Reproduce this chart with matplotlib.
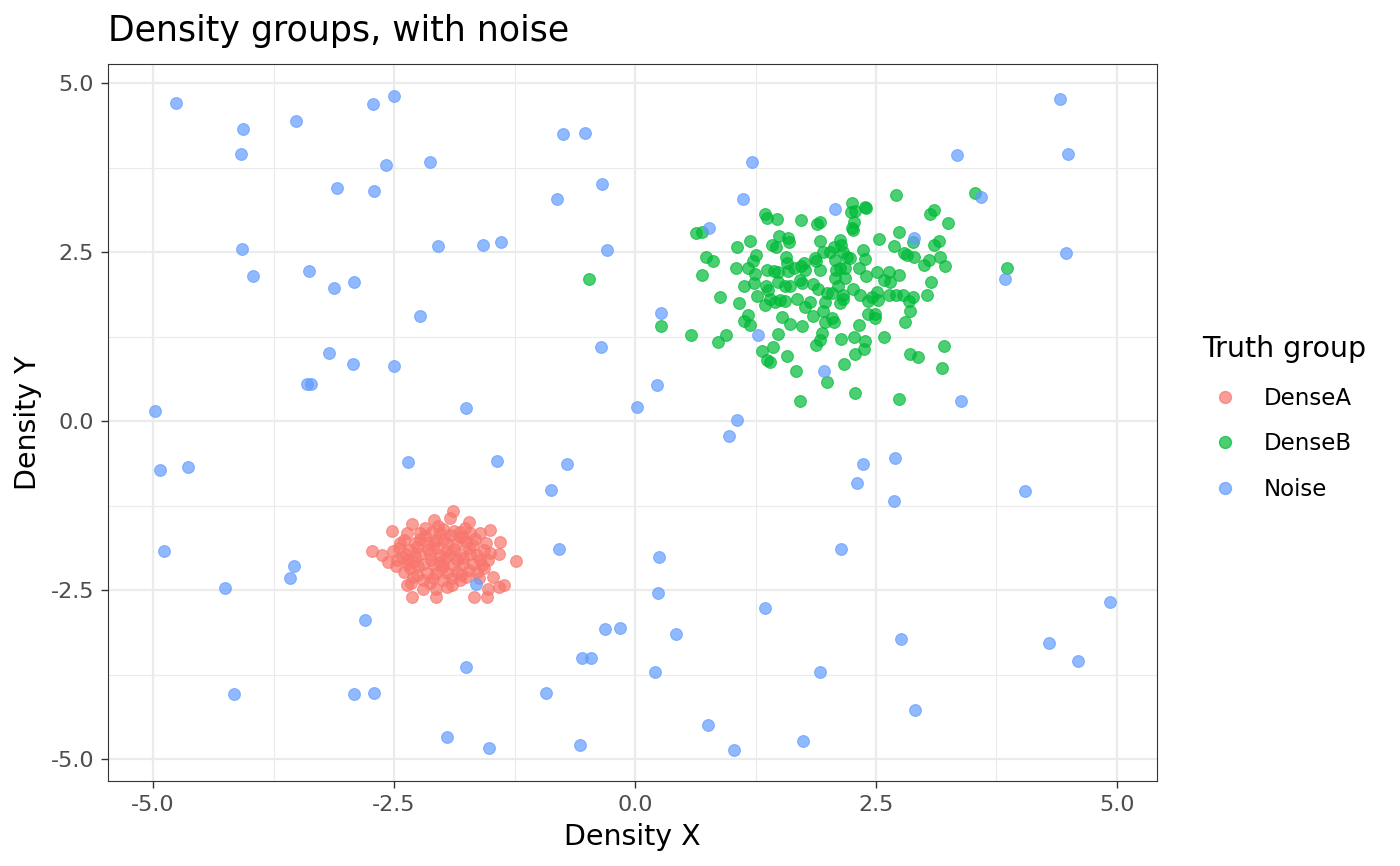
import numpy as np
import matplotlib
matplotlib.use("Agg")
import matplotlib.pyplot as plt
from matplotlib.lines import Line2D

# point positions (x, y)
densea_pts = [
    (-1.89, -1.33), (-1.92, -1.44), (-2.09, -1.47), (-2.31, -1.52), (-2.52, -1.63),
    (-1.72, -1.49), (-1.50, -1.61), (-2.73, -1.92), (-2.62, -1.98), (-2.56, -2.09),
    (-2.51, -1.92), (-1.40, -1.79), (-1.41, -1.97), (-1.23, -2.07), (-1.57, -2.18),
    (-2.37, -2.43), (-2.32, -2.39), (-2.31, -2.60), (-2.06, -2.60), (-2.06, -2.48),
    (-1.90, -2.43), (-1.82, -2.35), (-1.67, -2.60), (-1.54, -2.61), (-1.52, -2.48),
    (-1.41, -2.46), (-1.36, -2.43), (-2.37, -1.66), (-2.23, -1.66), (-2.44, -1.81),
    (-2.40, -1.76), (-1.99, -1.59), (-1.82, -1.64), (-1.61, -1.66), (-1.57, -1.91),
    (-1.61, -2.06), (-2.47, -2.06), (-2.42, -2.01), (-2.33, -2.18), (-2.26, -2.28),
    (-2.20, -2.35), (-2.13, -2.40), (-1.99, -2.35), (-1.75, -2.30), (-1.64, -2.23),
    (-1.59, -2.13), (-2.16, -1.81), (-2.06, -1.76), (-1.95, -1.81), (-1.85, -1.81),
    (-1.75, -1.79), (-1.68, -1.83), (-2.23, -1.96), (-2.13, -1.96), (-2.02, -1.98),
    (-1.92, -1.96), (-1.82, -1.96), (-1.71, -1.96), (-2.30, -2.08), (-2.20, -2.11),
    (-2.09, -2.13), (-1.99, -2.13), (-1.89, -2.13), (-1.78, -2.11), (-1.68, -2.11),
    (-2.16, -2.25), (-2.06, -2.25), (-1.95, -2.25), (-1.85, -2.23), (-2.33, -1.91),
    (-2.26, -1.86), (-1.82, -1.71), (-2.11, -1.64), (-2.23, -1.74), (-1.71, -1.66),
    (-1.92, -1.69), (-2.02, -1.66), (-1.64, -1.98), (-2.40, -2.23), (-1.95, -2.45),
    (-2.20, -2.48), (-2.05, -1.88), (-1.97, -2.03), (-2.12, -2.05), (-1.88, -1.90),
    (-2.00, -2.18), (-1.78, -2.02), (-2.28, -2.00), (-2.35, -2.05),
    (-2.45, -1.88), (-2.38, -1.96), (-2.28, -1.80), (-2.18, -1.70), (-2.08, -1.82),
    (-1.98, -1.74), (-1.88, -1.62), (-1.78, -1.72), (-1.66, -1.75), (-1.55, -1.80),
    (-1.50, -1.95), (-1.52, -2.05), (-1.72, -2.20), (-1.80, -2.28), (-1.90, -2.32),
    (-2.10, -2.32), (-2.25, -2.15), (-2.36, -2.12), (-2.15, -1.90), (-1.95, -1.92),
    (-1.85, -2.05), (-2.02, -2.08), (-1.72, -1.88), (-2.30, -2.30), (-1.62, -2.32),
    (-2.48, -2.15), (-2.04, -1.55), (-1.76, -1.58), (-2.18, -1.58), (-1.47, -2.30),
]

denseb_pts = [
    (1.35, 3.06), (1.37, 3.00), (1.47, 2.99), (1.72, 2.97), (1.89, 2.91), (1.92, 2.94),
    (0.63, 2.78), (0.70, 2.80), (1.49, 2.74), (1.59, 2.70), (1.60, 2.65), (1.19, 2.66),
    (1.06, 2.58), (1.42, 2.60), (1.46, 2.58), (1.92, 2.66), (0.74, 2.42), (0.81, 2.36),
    (1.25, 2.46), (1.22, 2.36), (1.17, 2.27), (1.05, 2.26), (1.24, 2.18), (1.37, 2.24),
    (1.44, 2.22), (1.48, 2.21), (1.57, 2.42), (1.58, 2.33), (1.59, 2.22), (1.65, 2.27),
    (1.72, 2.30), (1.75, 2.33), (1.76, 2.24), (1.87, 2.41), (1.88, 2.36), (1.92, 2.23),
    (1.95, 2.50), (0.70, 2.16), (1.13, 2.00), (1.23, 2.04), (1.36, 2.00), (1.38, 1.94),
    (1.48, 2.05), (1.56, 2.00), (1.61, 1.99), (1.71, 2.09), (1.73, 2.04), (1.85, 2.03),
    (1.90, 1.96), (1.99, 1.90), (0.88, 1.83), (1.08, 1.75), (1.27, 1.85), (1.35, 1.72),
    (1.40, 1.81), (1.45, 1.76), (1.50, 1.79), (1.56, 1.78), (1.68, 1.81), (1.76, 1.69),
    (1.82, 1.76), (1.97, 1.76), (1.17, 1.57), (1.13, 1.48), (1.19, 1.42), (1.52, 1.54),
    (1.61, 1.44), (1.73, 1.40), (1.85, 1.55), (1.95, 1.62), (1.97, 1.47), (0.58, 1.27),
    (0.86, 1.17), (0.94, 1.27), (1.48, 1.29), (1.94, 1.30), (1.92, 1.20), (1.88, 1.13),
    (1.43, 1.10), (1.32, 1.03), (1.37, 0.90), (1.40, 0.87), (1.58, 0.96), (1.67, 0.74),
    (1.99, 0.58), (1.71, 0.30),
    (2.71, 3.34), (3.53, 3.37), (2.25, 3.23), (2.24, 3.09), (2.28, 3.10), (2.39, 3.16),
    (2.40, 3.15), (3.06, 3.06), (3.10, 3.12), (3.25, 2.93), (2.27, 2.94), (2.25, 2.85),
    (2.26, 2.82), (2.74, 2.79), (2.53, 2.69), (2.13, 2.68), (2.14, 2.60), (2.06, 2.58),
    (2.02, 2.50), (2.69, 2.59), (2.79, 2.49), (2.82, 2.46), (2.89, 2.42), (2.88, 2.65),
    (3.10, 2.60), (3.15, 2.66), (3.00, 2.31), (3.05, 2.38), (3.16, 2.42), (3.22, 2.29),
    (2.16, 2.50), (2.20, 2.43), (2.23, 2.41), (2.37, 2.53), (2.39, 2.39), (2.07, 2.38),
    (2.13, 2.26), (2.09, 2.23), (2.18, 2.26), (2.32, 2.27), (2.51, 2.21), (2.40, 2.14),
    (2.58, 2.09), (2.63, 2.21), (2.65, 2.06), (2.74, 2.16), (3.07, 2.05), (2.07, 2.11),
    (2.18, 2.11), (2.11, 1.99), (2.04, 1.89), (2.16, 1.86), (2.26, 1.95), (2.33, 1.86),
    (2.42, 1.77), (2.46, 1.83), (2.51, 1.91), (2.52, 1.79), (2.63, 1.86), (2.71, 1.86),
    (2.78, 1.86), (2.84, 1.77), (2.88, 1.84), (3.03, 1.86), (2.85, 1.63), (2.80, 1.47),
    (2.42, 1.58), (2.49, 1.59), (2.49, 1.52), (2.13, 1.74), (2.16, 1.81), (2.04, 1.52),
    (2.06, 1.47), (2.32, 1.42), (2.14, 1.22), (2.27, 1.25), (2.39, 1.19), (2.38, 1.06),
    (2.28, 0.99), (2.17, 0.85), (2.58, 1.25), (2.85, 0.99), (2.94, 0.94), (3.21, 1.11),
    (3.18, 0.79), (2.28, 0.41), (2.74, 0.32),
    (-0.48, 2.10), (0.27, 1.41), (3.86, 2.26),
]

noise_pts = [
    (-4.76, 4.70), (-4.07, 4.32), (-4.09, 3.95), (-3.52, 4.44), (-2.72, 4.69),
    (-2.50, 4.81), (-2.58, 3.78), (-2.13, 3.83), (-3.09, 3.44), (-2.71, 3.40),
    (-4.08, 2.55), (-2.04, 2.59), (-3.96, 2.14), (-3.38, 2.22), (-3.12, 1.97),
    (-2.91, 2.05), (-2.23, 1.56), (-3.17, 1.01), (-2.93, 0.85), (-2.50, 0.82),
    (-3.40, 0.55), (-3.36, 0.55), (-4.98, 0.15), (-1.75, 0.19), (-0.75, 4.25),
    (-0.52, 4.26), (1.21, 3.83), (-0.34, 3.51), (-0.81, 3.28), (1.12, 3.28),
    (0.77, 2.86), (-1.58, 2.61), (-1.39, 2.65), (-0.29, 2.53), (0.27, 1.60),
    (-0.35, 1.10), (1.28, 1.27), (0.23, 0.53), (0.02, 0.21), (1.06, 0.01),
    (4.41, 4.77), (3.34, 3.93), (4.49, 3.95), (3.59, 3.31), (2.07, 3.14),
    (2.89, 2.70), (4.47, 2.49), (3.84, 2.10), (1.96, 0.74), (3.38, 0.29),
    (-4.93, -0.73), (-4.64, -0.68), (-2.36, -0.61), (-4.89, -1.93), (-4.25, -2.47),
    (-3.54, -2.15), (-3.58, -2.32), (-2.80, -2.94), (-1.75, -3.64), (-4.16, -4.04),
    (-2.91, -4.04), (-2.71, -4.03), (-1.95, -4.67), (0.98, -0.22), (-1.43, -0.59),
    (-0.71, -0.64), (-0.87, -1.02), (-0.79, -1.90), (0.25, -2.01), (-1.65, -2.41),
    (0.24, -2.55), (1.35, -2.76), (-0.31, -3.07), (-0.16, -3.06), (0.43, -3.15),
    (-0.55, -3.50), (-0.46, -3.50), (0.21, -3.72), (-0.92, -4.02), (0.76, -4.50),
    (-1.51, -4.83), (-0.57, -4.79), (1.03, -4.87), (1.74, -4.73), (2.37, -0.64),
    (2.70, -0.54), (2.30, -0.92), (2.69, -1.19), (4.05, -1.04), (2.14, -1.90),
    (4.93, -2.67), (2.76, -3.22), (4.29, -3.28), (4.60, -3.55), (1.92, -3.71),
    (2.90, -4.28),
]

group_names = ["DenseA", "DenseB", "Noise"]
group_colors = ["#F8766D", "#00BA38", "#619CFF"]
tick_vals = [-5.0, -2.5, 0.0, 2.5, 5.0]
tick_labels = ["-5.0", "-2.5", "0.0", "2.5", "5.0"]

W, H = 1400, 866
fig = plt.figure(figsize=(W / 100, H / 100), dpi=100)
ax = fig.add_axes([108 / W, 1 - 781 / H, (1157 - 108) / W, (781 - 64) / H])

for name, pts, col in zip(group_names, [densea_pts, denseb_pts, noise_pts], group_colors):
    arr = np.array(pts)
    ax.scatter(arr[:, 0], arr[:, 1], s=72, color=col, alpha=0.7,
               edgecolors=col, linewidths=0.8, zorder=3)

ax.set_xlim(-5.467, 5.415)
ax.set_ylim(-5.325, 5.281)
ax.set_xticks(tick_vals)
ax.set_xticklabels(tick_labels)
ax.set_yticks(tick_vals)
ax.set_yticklabels(tick_labels)
ax.set_xticks([-3.75, -1.25, 1.25, 3.75], minor=True)
ax.set_yticks([-3.75, -1.25, 1.25, 3.75], minor=True)

ax.grid(which="major", color="#EBEBEB", linewidth=1.6, zorder=0)
ax.grid(which="minor", color="#EBEBEB", linewidth=0.8, zorder=0)
ax.set_axisbelow(True)
ax.tick_params(which="major", length=5, width=1.0, color="#333333",
               labelsize=16, labelcolor="#4D4D4D", pad=5)
ax.tick_params(which="minor", length=0)
for sp in ax.spines.values():
    sp.set_color("#333333")
    sp.set_linewidth(0.8)

# titles
fig.text(108 / W, 1 - 41 / H, "Density groups, with noise", fontsize=25,
         ha="left", va="baseline")
fig.text(632.5 / W, 1 - 845 / H, "Density X", fontsize=20.5,
         ha="center", va="baseline")
fig.text(28 / W, 1 - 422.5 / H, "Density Y", fontsize=20.5,
         ha="center", va="center", rotation=90)

# legend
handles = [Line2D([], [], linestyle="none", marker="o", markersize=8.6,
                  markerfacecolor=c, markeredgecolor=c, alpha=0.7) for c in group_colors]
fig.legend(handles, group_names, loc="center left", bbox_to_anchor=(1202 / W, 1 - 444 / H),
           frameon=False, fontsize=16.5, handlelength=2.0, handletextpad=0.7,
           labelspacing=0.98, borderpad=0, borderaxespad=0)
fig.text(1202 / W, 1 - 357 / H, "Truth group", fontsize=20.5, ha="left", va="baseline")

fig.savefig("out.png", dpi=100)
